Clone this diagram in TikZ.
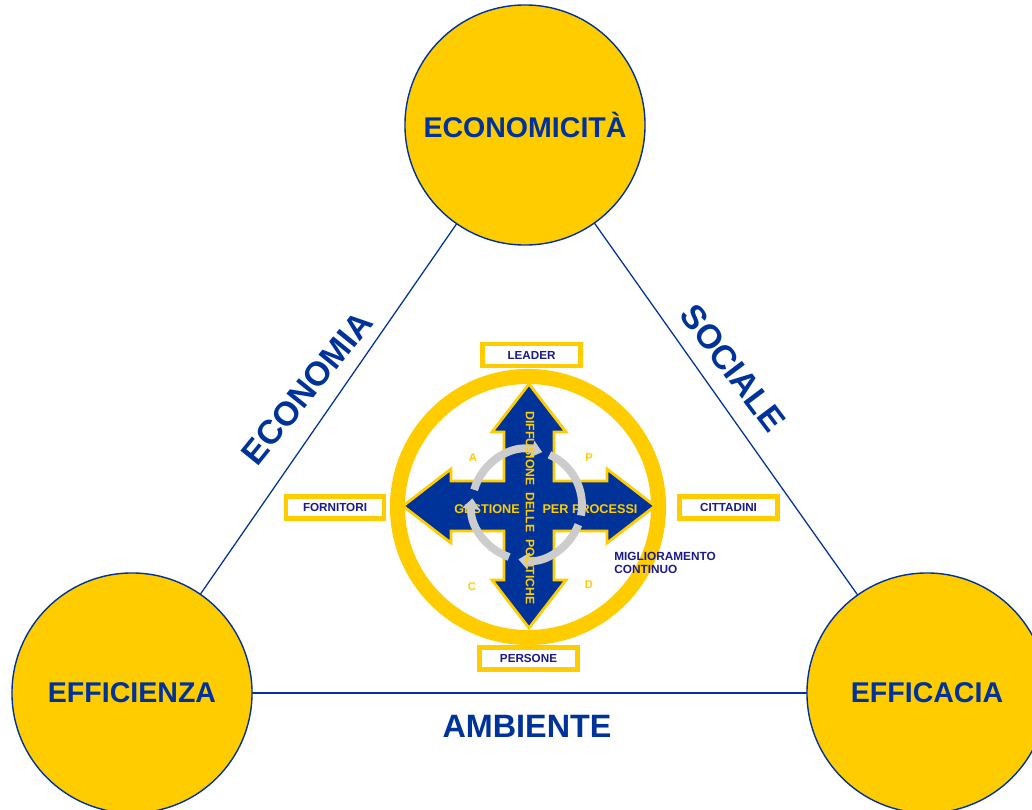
\documentclass[tikz,border=0pt]{standalone}
\usepackage{fontspec}
\setmainfont{Liberation Sans}
\usetikzlibrary{arrows.meta,backgrounds}
\definecolor{yel}{RGB}{255,204,0}
\definecolor{dblue}{RGB}{0,51,153}
\definecolor{navy}{RGB}{26,26,140}
\definecolor{lgray}{RGB}{204,204,204}
\begin{document}
\begin{tikzpicture}[x=0.025cm,y=-0.025cm,
  bigc/.style={circle, fill=yel, draw=dblue, line width=1pt, minimum size=6cm, inner sep=0pt, text=dblue, font=\fontsize{20.3}{24}\selectfont\bfseries},
  side/.style={text=dblue, font=\fontsize{24}{28}\selectfont\bfseries, inner sep=0pt},
  tri/.style={draw=dblue, line width=0.9pt},
  tagbox/.style={draw=yel, line width=3.5pt, fill=white, minimum width=2.45cm, minimum height=0.55cm, inner sep=0pt, text=navy, font=\fontsize{8.3}{10}\selectfont\bfseries},
  ylab/.style={text=yel, font=\fontsize{9}{10}\selectfont\bfseries, inner sep=0pt},
  pdca/.style={text=yel, font=\fontsize{8}{9}\selectfont\bfseries, inner sep=0pt},
  garc/.style={draw=lgray, line width=5.6pt},
  garrow/.style={garc, -{Triangle[width=12pt,length=7.5pt]}},
  ringst/.style={circle, draw=yel, line width=10.7pt, minimum size=6.525cm, inner sep=0pt},
  cross/.style={fill=dblue, draw=yel, line width=2pt, line join=miter},
  note/.style={text=navy, font=\fontsize{8.4}{9.5}\selectfont\bfseries, inner sep=0pt, align=left}
]
\useasboundingbox (0,0) rectangle (1032,809);

% corner circles
\node[bigc] (eco) at (525,125) {ECONOMICITÀ};
\node[bigc] (effz) at (132,693) {EFFICIENZA};
\node[bigc] (effc) at (927,693) {EFFICACIA};
\begin{scope}[on background layer]
  \draw[tri] (eco.center) -- (effz.center);
  \draw[tri] (eco.center) -- (effc.center);
  \draw[tri] (effz.center) -- (effc.center);
\end{scope}

% side labels
\node[side, rotate=51] (econ) at (307,388) {ECONOMIA};
\node[side, rotate=-53] (soc) at (733,368) {SOCIALE};
\node[side, font=\fontsize{23}{27}\selectfont\bfseries] (amb) at (527,726) {AMBIENTE};

% central ring
\node[ringst] (ring) at (528,507) {};

% four-way arrow
\begin{scope}[shift={(529,506)}]
  \draw[cross] (0,-122) -- (37,-74) -- (25,-74) -- (25,-25) -- (78,-25) -- (78,-37)
    -- (126,0) -- (78,37) -- (78,25) -- (25,25) -- (25,74) -- (37,74)
    -- (0,122) -- (-37,74) -- (-25,74) -- (-25,25) -- (-78,25) -- (-78,37)
    -- (-126,0) -- (-78,-37) -- (-78,-25) -- (-25,-25) -- (-25,-74) -- (-37,-74) -- cycle;
\end{scope}

% horizontal texts
\node[ylab] (gest) at (487,509) {GESTIONE};
\node[ylab] (proc) at (590,509) {PER PROCESSI};

% PDCA cycle
\begin{scope}[shift={(527,505)}, yscale=-1]
  \draw[garrow] (164:55) arc[start angle=164, end angle=74, radius=55];
  \draw[garc] (66:55) arc[start angle=66, end angle=-11, radius=55];
  \draw[garrow] (-21:55) arc[start angle=-21, end angle=-99, radius=55];
  \draw[garrow] (-109:55) arc[start angle=-109, end angle=-187, radius=55];
\end{scope}

\node[ylab, rotate=-90, font=\fontsize{8.7}{10}\selectfont\bfseries] (diff) at (530,508) {DIFFUSIONE\ \ DELLE\ \ POLITICHE};

\node[pdca] (pa) at (473,458) {A};
\node[pdca] (pp) at (589,458) {P};
\node[pdca] (pc) at (472,587) {C};
\node[pdca] (pd) at (589,585) {D};

% stakeholder boxes
\node[tagbox] (lead) at (531.5,355) {LEADER};
\node[tagbox] (forn) at (335,507.5) {FORNITORI};
\node[tagbox] (citt) at (728.5,507.5) {CITTADINI};
\node[tagbox] (pers) at (528.5,658.5) {PERSONE};

\node[note, anchor=north west] (migl) at (614,552) {MIGLIORAMENTO\\CONTINUO};
\end{tikzpicture}
\end{document}
